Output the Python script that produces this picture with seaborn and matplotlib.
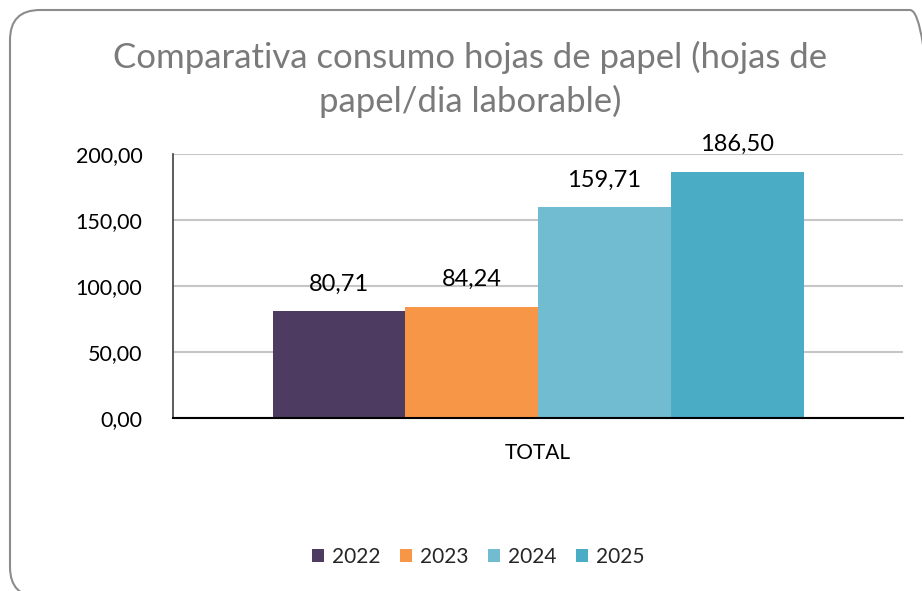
import matplotlib
matplotlib.use("Agg")
import matplotlib.pyplot as plt
import seaborn as sns
import pandas as pd
from matplotlib.patches import FancyBboxPatch, Patch

categories = ["TOTAL"]
years = ["2022", "2023", "2024", "2025"]
values = [80.71, 84.24, 159.71, 186.50]
colors = ["#4E3B62", "#F79646", "#71BCD1", "#4BACC6"]
yticks = [0, 50, 100, 150, 200]

df = pd.DataFrame({"cat": categories * len(years), "year": years, "value": values})

sns.set_theme(style="white")
plt.rcParams["font.family"] = ["Lato", "DejaVu Sans"]

fig = plt.figure(figsize=(9.22, 5.91), dpi=100)
fig.patch.set_facecolor("white")

# rounded frame (inches)
frame = FancyBboxPatch((0.10, -0.06), 9.3, 5.87,
                       boxstyle="round,pad=0,rounding_size=0.3",
                       transform=fig.dpi_scale_trans, facecolor="none",
                       edgecolor="#8c8c8c", linewidth=1.5, zorder=0)
fig.patches.append(frame)

ax = fig.add_axes([173 / 922, 173 / 591, 730 / 922, 264 / 591])
sns.barplot(data=df, x="cat", y="value", hue="year", palette=colors,
            width=531 / 730, gap=0, saturation=1, linewidth=0, ax=ax, legend=False)

ax.set_xlim(-0.5, 0.5)
ax.set_ylim(0, 200)
ax.set_yticks(yticks)
ax.set_yticklabels([f"{v:.2f}".replace(".", ",") for v in yticks])
ax.yaxis.grid(True, color="#c6c6c6", linewidth=1.5)
ax.set_axisbelow(True)
for s in ["top", "right"]:
    ax.spines[s].set_visible(False)
ax.spines["left"].set_color("#404040")
ax.spines["left"].set_linewidth(1.2)
ax.spines["bottom"].set_color("#000000")
ax.spines["bottom"].set_linewidth(1.5)
ax.tick_params(axis="y", labelsize=15.5, colors="#000000", pad=22, length=0)
ax.tick_params(axis="x", labelsize=15, colors="#000000", pad=18, length=0)
ax.set_xlabel("")
ax.set_ylabel("")

for cont in ax.containers:
    ax.bar_label(cont, labels=[f"{v:.2f}".replace(".", ",") for v in cont.datavalues],
                 padding=12, fontsize=17, color="#000000")

fig.text(470 / 922, 1 - 57 / 591, "Comparativa consumo hojas de papel (hojas de",
         ha="center", va="center", fontsize=25, color="#7a7a7a")
fig.text(470 / 922, 1 - 101 / 591, "papel/dia laborable)",
         ha="center", va="center", fontsize=25, color="#7a7a7a")

handles = [Patch(facecolor=c, edgecolor="none") for c in colors]
fig.legend(handles, years, loc="center", bbox_to_anchor=(478 / 922, 1 - 557 / 591),
           ncol=4, frameon=False, fontsize=15, handlelength=0.6, handleheight=0.6,
           handletextpad=0.35, columnspacing=0.95)

fig.savefig("out.png", dpi=100, facecolor="white")
